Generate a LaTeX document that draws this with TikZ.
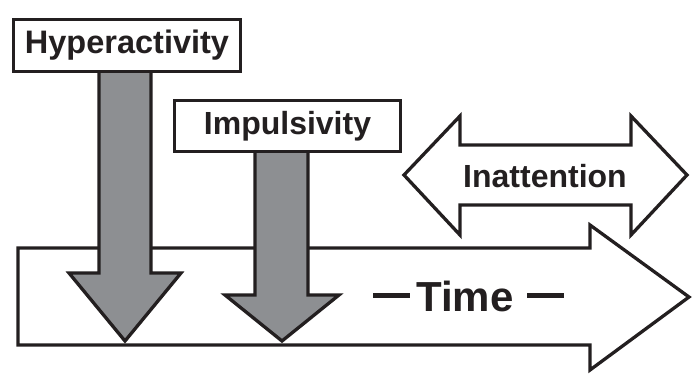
\documentclass[tikz,border=0pt]{standalone}
\usepackage{fontspec}
\setmainfont{Liberation Sans}
\definecolor{ink}{HTML}{231F20}
\definecolor{arrowgray}{HTML}{8D8F92}
\begin{document}
\begin{tikzpicture}[x=1pt,y=-1pt,
  outline/.style={draw=ink,line width=3.3pt,line join=miter},
  grayarrow/.style={outline,fill=arrowgray},
  whitearrow/.style={outline,fill=white},
  labelbox/.style={outline,fill=white,rectangle,inner sep=0pt,text=ink,font=\bfseries\fontsize{32}{32}\selectfont},
  label/.style={inner sep=0pt,text=ink,font=\bfseries\fontsize{32}{32}\selectfont}]
\useasboundingbox (0,0) rectangle (694,382);
% Time arrow
\draw[whitearrow] (18,248) -- (590,248) -- (590,225) -- (689,297) -- (590,370) -- (590,345) -- (18,345) -- cycle;
\node[label,anchor=base west,font=\bfseries\fontsize{42}{42}\selectfont] (time) at (373,312) {\textcolor{ink}{\rule[14pt]{37pt}{5pt}}\hspace{6pt}Time\hspace{14pt}\textcolor{ink}{\rule[14pt]{37pt}{5pt}}};
% Hyperactivity arrow
\draw[grayarrow] (99,60) -- (151,60) -- (151,273) -- (181,273) -- (125,341) -- (69,273) -- (99,273) -- cycle;
% Impulsivity arrow
\draw[grayarrow] (255,140) -- (308,140) -- (308,295) -- (339,295) -- (282,341) -- (225,295) -- (255,295) -- cycle;
% Inattention arrow
\draw[whitearrow] (404,175) -- (460,116) -- (460,145) -- (631,145) -- (631,116) -- (687,175) -- (631,235) -- (631,205) -- (460,205) -- (460,235) -- cycle;
\node[label] (inatt) at (545,176) {Inattention};
% Boxes
\node[labelbox,minimum width=227pt,minimum height=52pt,font=\bfseries\fontsize{32.5}{32.5}\selectfont] (hyp) at (127,45.5) {Hyperactivity};
\node[labelbox,minimum width=226pt,minimum height=51pt] (imp) at (287.5,126) {Impulsivity};
\end{tikzpicture}
\end{document}
